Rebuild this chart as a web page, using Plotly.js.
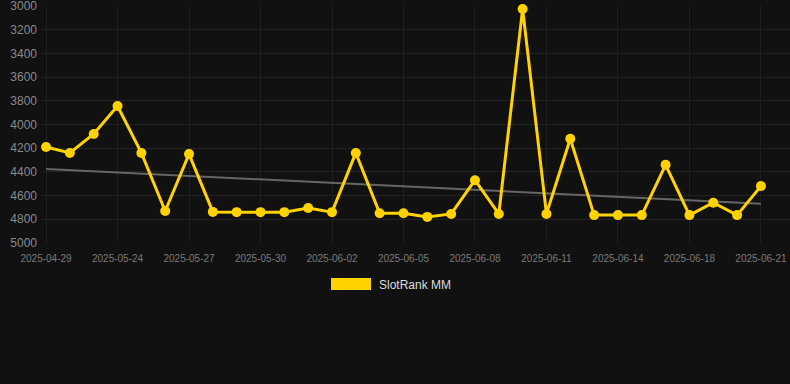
<!DOCTYPE html>
<html>
<head>
<meta charset="utf-8">
<script src="https://cdn.plot.ly/plotly-3.0.1.min.js"></script>
<style>
html,body{margin:0;padding:0;background:#111111;}
#chart{width:790px;height:384px;}
</style>
</head>
<body>
<div id="chart"></div>
<script>
const dates = ["2025-04-29","2025-05-22","2025-05-23","2025-05-24","2025-05-25","2025-05-26","2025-05-27","2025-05-28","2025-05-29","2025-05-30","2025-05-31","2025-06-01","2025-06-02","2025-06-03","2025-06-04","2025-06-05","2025-06-06","2025-06-07","2025-06-08","2025-06-09","2025-06-10","2025-06-11","2025-06-12","2025-06-13","2025-06-14","2025-06-15","2025-06-16","2025-06-18","2025-06-19","2025-06-20","2025-06-21"];
const ranks = [4190,4240,4080,3844,4240,4730,4250,4738,4740,4740,4740,4705,4740,4240,4750,4750,4780,4755,4470,4755,3025,4755,4120,4765,4765,4765,4340,4765,4660,4765,4520];
const trendDates = ["2025-04-29","2025-06-21"];
const trendValues = [4375,4670];
const tickDates = ["2025-04-29","2025-05-24","2025-05-27","2025-05-30","2025-06-02","2025-06-05","2025-06-08","2025-06-11","2025-06-14","2025-06-18","2025-06-21"];
const yTicks = [3000,3200,3400,3600,3800,4000,4200,4400,4600,4800,5000];
const seriesName = "SlotRank MM";

const traces = [
  {x: trendDates, y: trendValues, type:'scatter', mode:'lines',
   line:{color:'#666666', width:2}, showlegend:false, hoverinfo:'skip'},
  {x: dates, y: ranks, type:'scatter', mode:'lines+markers', name: seriesName,
   line:{color:'#FFD200', width:3}, marker:{color:'#FFD200', size:10},
   cliponaxis:false, showlegend:false}
];

const layout = {
  width:790, height:384,
  paper_bgcolor:'#111111', plot_bgcolor:'#111111',
  margin:{l:42, r:0, t:6, b:141},
  font:{family:'Arial, Liberation Sans, sans-serif'},
  xaxis:{type:'category', categoryorder:'array', categoryarray:dates,
    range:[-0.17, 31.22], tickmode:'array', tickvals:tickDates, ticktext:tickDates,
    tickfont:{size:10, color:'#7a7a7a'}, showgrid:true, gridcolor:'#1f1f1f', gridwidth:1,
    zeroline:false, showline:false, ticks:'', tickangle:0, ticklabelstandoff:8, fixedrange:true},
  yaxis:{range:[5000.5,2999.5], tickmode:'array', tickvals:yTicks,
    tickfont:{size:12, color:'#8a8a8a'}, showgrid:true, gridcolor:'#222222', gridwidth:1,
    zeroline:false, showline:false, ticks:'', ticklabelstandoff:4, ticklabeloverflow:'allow', fixedrange:true},
  showlegend:false,
  shapes:[{type:'rect', xref:'paper', yref:'paper', x0:(331-42)/748, x1:(371-42)/748,
    y0:(384-141-290)/237, y1:(384-141-278)/237, fillcolor:'#FFD200', line:{width:0}}],
  annotations:[{xref:'paper', yref:'paper', x:(377-42)/748, y:(384-141-284.5)/237,
    xanchor:'left', yanchor:'middle', showarrow:false, text:seriesName,
    font:{size:12, color:'#dddddd'}}]
};

Plotly.newPlot('chart', traces, layout, {displayModeBar:false, staticPlot:true});
</script>
</body>
</html>
